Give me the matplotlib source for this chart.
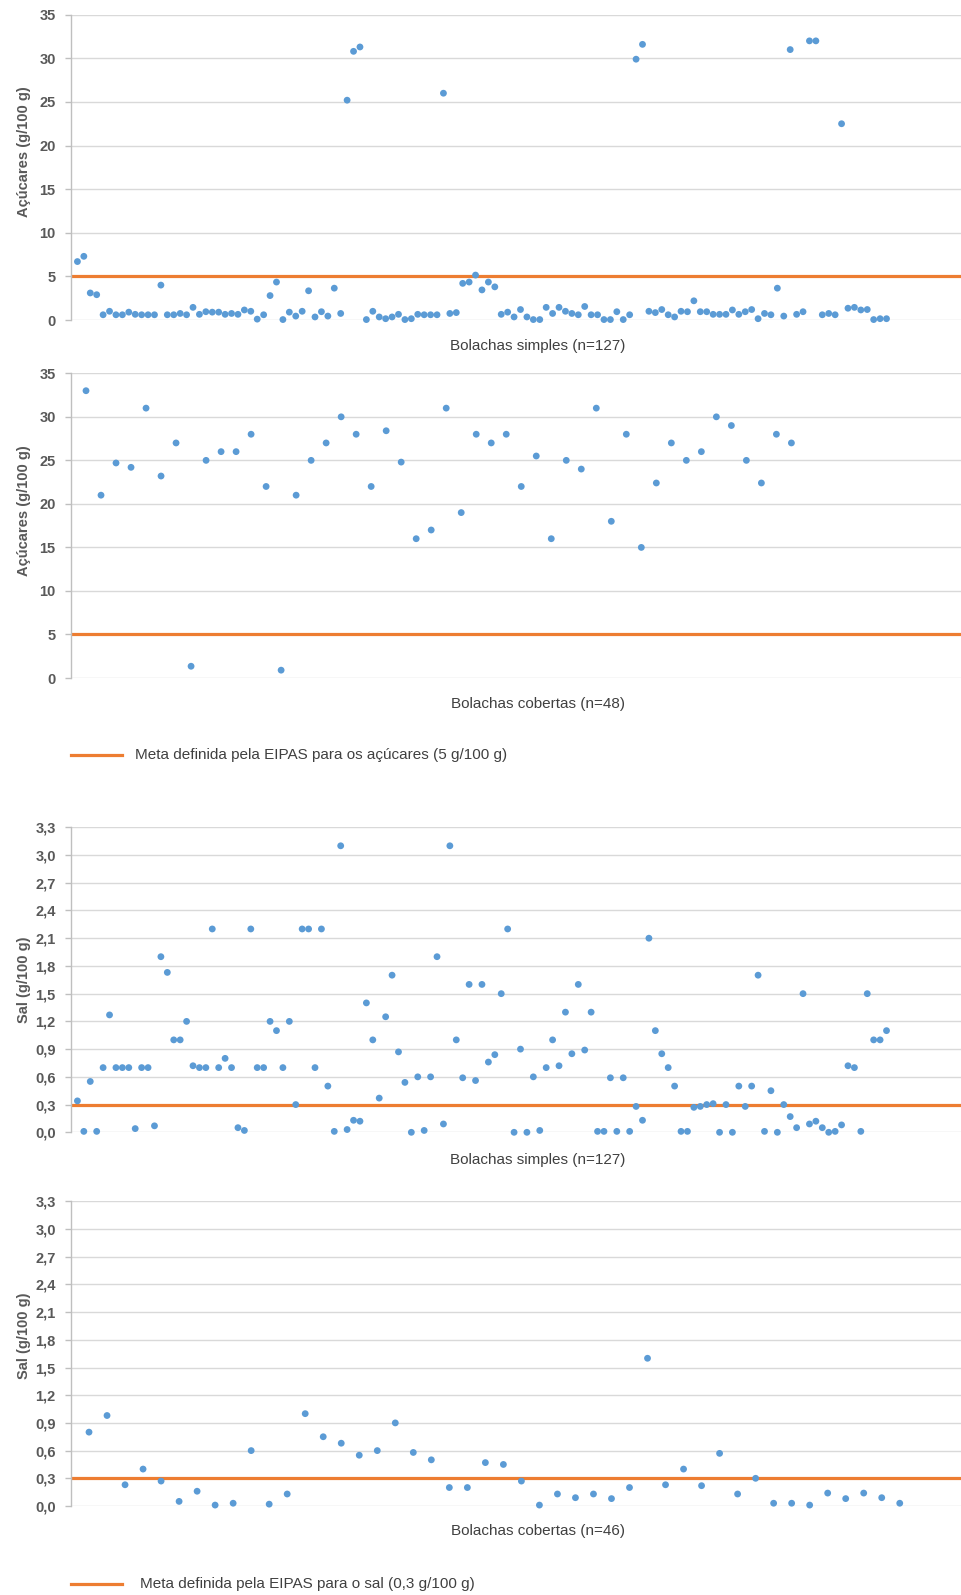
import matplotlib
matplotlib.use("Agg")
import matplotlib.pyplot as plt
from matplotlib.lines import Line2D
from matplotlib.ticker import FixedLocator, FuncFormatter

plt.rcParams['font.family'] = ['Liberation Sans', 'DejaVu Sans']

# ---------------- data ----------------
acucar_simples = [
    6.7, 7.3, 3.1, 2.9, 0.6, 1.0, 0.6, 0.6, 0.9, 0.65,
    0.6, 0.6, 0.6, 4.0, 0.6, 0.6, 0.75, 0.6, 1.45, 0.65,
    0.95, 0.9, 0.9, 0.65, 0.75, 0.65, 1.15, 1.0, 0.1, 0.6,
    2.8, 4.35, 0.05, 0.9, 0.45, 1.0, 3.35, 0.35, 0.95, 0.45,
    3.65, 0.75, 25.2, 30.8, 31.3, 0.05, 1.0, 0.35, 0.15, 0.35,
    0.65, 0.05, 0.15, 0.65, 0.6, 0.6, 0.6, 26.0, 0.75, 0.85,
    4.2, 4.35, 5.15, 3.45, 4.35, 3.8, 0.65, 0.9, 0.35, 1.2,
    0.35, 0.05, 0.05, 1.45, 0.75, 1.45, 1.0, 0.75, 0.6, 1.55,
    0.6, 0.6, 0.05, 0.05, 0.95, 0.05, 0.6, 29.9, 31.6, 1.0,
    0.85, 1.2, 0.6, 0.35, 1.0, 0.95, 2.2, 0.95, 0.95, 0.65,
    0.65, 0.65, 1.15, 0.65, 0.95, 1.2, 0.15, 0.75, 0.6, 3.65,
    0.45, 31.0, 0.65, 0.95, 32.0, 32.0, 0.6, 0.75, 0.6, 22.5,
    1.35, 1.45, 1.15, 1.2, 0.05, 0.15, 0.15,
]
acucar_cobertas = [
    33.0, 21.0, 24.7, 24.2, 31.0, 23.2, 27.0, 1.35, 25.0, 26.0,
    26.0, 28.0, 22.0, 0.9, 21.0, 25.0, 27.0, 30.0, 28.0, 22.0,
    28.4, 24.8, 16.0, 17.0, 31.0, 19.0, 28.0, 27.0, 28.0, 22.0,
    25.5, 16.0, 25.0, 24.0, 31.0, 18.0, 28.0, 15.0, 22.4, 27.0,
    25.0, 26.0, 30.0, 29.0, 25.0, 22.4, 28.0, 27.0,
]
sal_simples = [
    0.34, 0.01, 0.55, 0.01, 0.70, 1.27, 0.70, 0.70, 0.70, 0.04,
    0.70, 0.70, 0.07, 1.90, 1.73, 1.00, 1.00, 1.20, 0.72, 0.70,
    0.70, 2.20, 0.70, 0.80, 0.70, 0.05, 0.02, 2.20, 0.70, 0.70,
    1.20, 1.10, 0.70, 1.20, 0.30, 2.20, 2.20, 0.70, 2.20, 0.50,
    0.01, 3.10, 0.03, 0.13, 0.12, 1.40, 1.00, 0.37, 1.25, 1.70,
    0.87, 0.54, 0.00, 0.60, 0.02, 0.60, 1.90, 0.09, 3.10, 1.00,
    0.59, 1.60, 0.56, 1.60, 0.76, 0.84, 1.50, 2.20, 0.00, 0.90,
    0.00, 0.60, 0.02, 0.70, 1.00, 0.72, 1.30, 0.85, 1.60, 0.89,
    1.30, 0.01, 0.01, 0.59, 0.01, 0.59, 0.01, 0.28, 0.13, 2.10,
    1.10, 0.85, 0.70, 0.50, 0.01, 0.01, 0.27, 0.28, 0.30, 0.31,
    0.00, 0.30, 0.00, 0.50, 0.28, 0.50, 1.70, 0.01, 0.45, 0.00,
    0.30, 0.17, 0.05, 1.50, 0.09, 0.12, 0.05, 0.00, 0.01, 0.08,
    0.72, 0.70, 0.01, 1.50, 1.00, 1.00, 1.10,
]
sal_cobertas = [
    0.80, 0.98, 0.23, 0.40, 0.27, 0.05, 0.16, 0.01, 0.03, 0.60,
    0.02, 0.13, 1.00, 0.75, 0.68, 0.55, 0.60, 0.90, 0.58, 0.50,
    0.20, 0.20, 0.47, 0.45, 0.27, 0.01, 0.13, 0.09, 0.13, 0.08,
    0.20, 1.60, 0.23, 0.40, 0.22, 0.57, 0.13, 0.30, 0.03, 0.03,
    0.01, 0.14, 0.08, 0.14, 0.09, 0.03,
]

meta_acucar = 5
meta_sal = 0.3

yticks_acucar = [0, 5, 10, 15, 20, 25, 30, 35]
yticks_sal = [0.0, 0.3, 0.6, 0.9, 1.2, 1.5, 1.8, 2.1, 2.4, 2.7, 3.0, 3.3]

ylabel_acucar = "Açúcares (g/100 g)"
ylabel_sal = "Sal (g/100 g)"
xlabels = ["Bolachas simples (n=127)", "Bolachas cobertas (n=48)",
           "Bolachas simples (n=127)", "Bolachas cobertas (n=46)"]
legend_acucar = "Meta definida pela EIPAS para os açúcares (5 g/100 g)"
legend_sal = "Meta definida pela EIPAS para o sal (0,3 g/100 g)"

# ---------------- style ----------------
W, H = 961, 1595
BLUE = "#5B9BD5"
ORANGE = "#ED7D31"
GRID = "#D9D9D9"
TICKC = "#595959"
TEXTC = "#404040"

fig = plt.figure(figsize=(W / 100, H / 100), dpi=100)

def px_axes(top, bottom, left=71, right=961):
    return fig.add_axes([left / W, 1 - bottom / H, (right - left) / W, (bottom - top) / H])

panels = [
    dict(top=14.7, bottom=320.0, data=acucar_simples, xr=138.6, yt=yticks_acucar,
         ymax=35, meta=meta_acucar, ylabel=ylabel_acucar, ly=0.55, xl_y=346, dec=False),
    dict(top=373.3, bottom=678.0, data=acucar_cobertas, xr=59.3, yt=yticks_acucar,
         ymax=35, meta=meta_acucar, ylabel=ylabel_acucar, ly=0.55, xl_y=704, dec=False),
    dict(top=827.3, bottom=1132.3, data=sal_simples, xr=138.6, yt=yticks_sal,
         ymax=3.3, meta=meta_sal, ylabel=ylabel_sal, ly=0.50, xl_y=1160, dec=True),
    dict(top=1201.3, bottom=1506.0, data=sal_cobertas, xr=49.4, yt=yticks_sal,
         ymax=3.3, meta=meta_sal, ylabel=ylabel_sal, ly=0.56, xl_y=1531, dec=True),
]

for p, xl in zip(panels, xlabels):
    ax = px_axes(p["top"], p["bottom"])
    n = len(p["data"])
    xs = list(range(1, n + 1))
    ax.set_xlim(0, p["xr"])
    ax.set_ylim(0, p["ymax"])
    ax.yaxis.set_major_locator(FixedLocator(p["yt"]))
    if p["dec"]:
        ax.yaxis.set_major_formatter(FuncFormatter(lambda v, pos: f"{v:.1f}".replace(".", ",")))
    else:
        ax.yaxis.set_major_formatter(FuncFormatter(lambda v, pos: f"{v:.0f}"))
    ax.set_xticks([])
    ax.grid(axis="y", color=GRID, linewidth=1.0, zorder=0)
    ax.set_axisbelow(True)
    for s in ["top", "right", "bottom"]:
        ax.spines[s].set_visible(False)
    ax.spines["left"].set_color("#BFBFBF")
    ax.spines["left"].set_linewidth(1.0)
    ax.tick_params(axis="y", length=4.5, width=1.0, color="#BFBFBF", pad=6.5,
                   labelsize=10.5, labelcolor=TICKC)
    for lab in ax.get_yticklabels():
        lab.set_fontweight("bold")
    ax.axhline(p["meta"], color=ORANGE, linewidth=2.3, zorder=2)
    ax.scatter(xs, p["data"], s=24, color=BLUE, edgecolors="none", zorder=3, clip_on=False)
    ax.set_ylabel(p["ylabel"], fontsize=10.5, fontweight="bold", color=TICKC)
    ax.yaxis.set_label_coords(-40 / 890, p["ly"])
    fig.text(538 / W, 1 - p["xl_y"] / H, xl, ha="center", va="center",
             fontsize=11, color=TEXTC)

# legends
for y, x_text, txt in [(755, 135, legend_acucar), (1584, 140, legend_sal)]:
    fig.add_artist(Line2D([71 / W, 122 / W], [1 - y / H, 1 - y / H],
                          color=ORANGE, linewidth=2.3, transform=fig.transFigure))
    fig.text(x_text / W, 1 - y / H, txt, ha="left", va="center",
             fontsize=11, color=TEXTC)

fig.savefig("out.png", dpi=100, facecolor="white")
